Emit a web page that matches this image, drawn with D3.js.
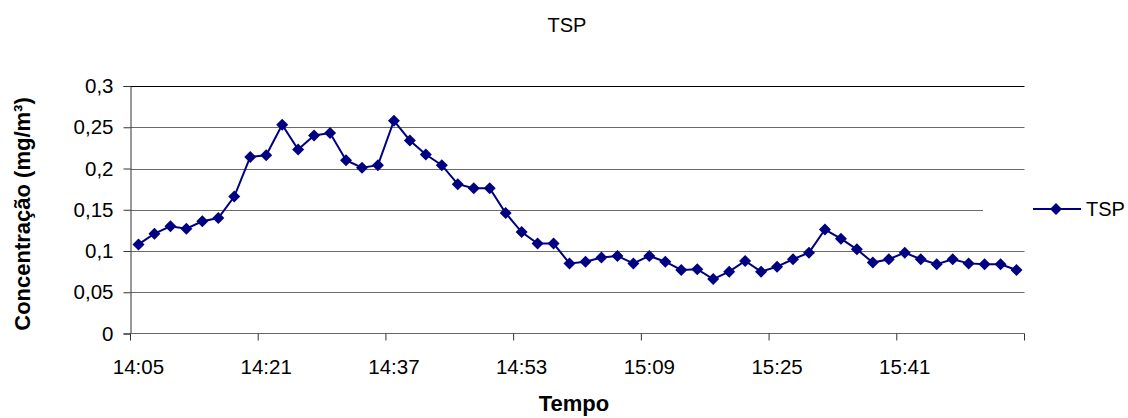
<!DOCTYPE html>
<html>
<head>
<meta charset="utf-8">
<script src="https://cdn.jsdelivr.net/npm/d3@7"></script>
<style>
  html, body { margin: 0; padding: 0; background: #fff; }
  svg { display: block; font-family: "Liberation Sans", Arial, sans-serif; }
</style>
</head>
<body>
<svg id="chart" width="1128" height="418"></svg>
<script>
// Sampling times (every 2 minutes, 14:05 to 15:55)
const times = [
  "14:05","14:07","14:09","14:11","14:13","14:15","14:17","14:19","14:21","14:23",
  "14:25","14:27","14:29","14:31","14:33","14:35","14:37","14:39","14:41","14:43",
  "14:45","14:47","14:49","14:51","14:53","14:55","14:57","14:59","15:01","15:03",
  "15:05","15:07","15:09","15:11","15:13","15:15","15:17","15:19","15:21","15:23",
  "15:25","15:27","15:29","15:31","15:33","15:35","15:37","15:39","15:41","15:43",
  "15:45","15:47","15:49","15:51","15:53","15:55"
];

// TSP concentration (mg/m³)
const tsp = [
  0.108, 0.121, 0.130, 0.127, 0.136, 0.140, 0.166, 0.214, 0.216, 0.253,
  0.223, 0.240, 0.243, 0.210, 0.201, 0.204, 0.258, 0.234, 0.217, 0.204,
  0.181, 0.176, 0.176, 0.146, 0.123, 0.109, 0.109, 0.085, 0.087, 0.092,
  0.094, 0.085, 0.094, 0.087, 0.077, 0.078, 0.066, 0.075, 0.088, 0.075,
  0.081, 0.090, 0.098, 0.126, 0.115, 0.102, 0.086, 0.090, 0.098, 0.090,
  0.084, 0.090, 0.085, 0.084, 0.084, 0.077
];

const yTicks = [0, 0.05, 0.1, 0.15, 0.2, 0.25, 0.3];
const xLabelEvery = 8;

const svg = d3.select("#chart");
const plot = { left: 130.5, right: 1024.5, top: 86, bottom: 333.5 };

const x = d3.scaleBand().domain(times).range([plot.left, plot.right]).padding(0);
const y = d3.scaleLinear().domain([0, 0.3]).range([plot.bottom, plot.top]);
const fmt = v => String(+v.toFixed(2)).replace(".", ",");

// Horizontal gridlines
svg.append("g").selectAll("line")
  .data(yTicks.filter(v => v > 0))
  .join("line")
  .attr("x1", plot.left).attr("x2", plot.right)
  .attr("y1", d => Math.round(y(d)) + 0.5).attr("y2", d => Math.round(y(d)) + 0.5)
  .attr("stroke", d => d === 0.3 ? "#000" : "#6a6a6a")
  .attr("stroke-width", 1.2);

// Y axis
const yAxis = svg.append("g")
  .attr("transform", `translate(${plot.left},0)`)
  .call(d3.axisLeft(y).tickValues(yTicks).tickFormat(fmt).tickSize(7).tickPadding(10));
yAxis.select(".domain").attr("stroke", "#333");
yAxis.selectAll(".tick line").attr("stroke", "#333");
yAxis.selectAll("text").attr("font-size", 20.5).attr("fill", "#000")
  .attr("font-family", "Liberation Sans, Arial, sans-serif");

// X axis: ticks between categories every 8 samples, labels centred on categories
const xAxisG = svg.append("g").attr("transform", `translate(0,${plot.bottom})`);
xAxisG.append("line")
  .attr("x1", plot.left).attr("x2", plot.right).attr("y1", 0).attr("y2", 0)
  .attr("stroke", "#666");
const bw = x.bandwidth();
const tickIdx = d3.range(0, times.length + 1, xLabelEvery);
xAxisG.selectAll("line.tk").data(tickIdx).join("line").attr("class", "tk")
  .attr("x1", i => plot.left + i * bw).attr("x2", i => plot.left + i * bw)
  .attr("y1", 0).attr("y2", 7).attr("stroke", "#333");
xAxisG.selectAll("text").data(times.filter((t, i) => i % xLabelEvery === 0)).join("text")
  .attr("x", t => x(t) + bw / 2).attr("y", 40)
  .attr("text-anchor", "middle").attr("font-size", 20.5).attr("fill", "#000")
  .text(t => t);

// Diamond marker (square turned 45°)
const diamondType = {
  draw(ctx, size) {
    const r = Math.sqrt(size) / 2 * Math.SQRT2;
    ctx.moveTo(0, -r); ctx.lineTo(r, 0); ctx.lineTo(0, r); ctx.lineTo(-r, 0); ctx.closePath();
  }
};
const diamond = d3.symbol().type(diamondType).size(72);

// Series line and markers
const cx = t => x(t) + bw / 2;
svg.append("path")
  .datum(tsp)
  .attr("fill", "none").attr("stroke", "#000080").attr("stroke-width", 2)
  .attr("d", d3.line().x((d, i) => cx(times[i])).y(d => y(d)));

svg.append("g").selectAll("path")
  .data(tsp)
  .join("path")
  .attr("d", diamond)
  .attr("transform", (d, i) => `translate(${cx(times[i])},${y(d)})`)
  .attr("fill", "#000080");

// Legend
const lg = svg.append("g");
lg.append("rect").attr("x", 983).attr("y", 196).attr("width", 145).attr("height", 26).attr("fill", "#fff");
lg.append("line").attr("x1", 1033).attr("x2", 1081).attr("y1", 209).attr("y2", 209)
  .attr("stroke", "#000080").attr("stroke-width", 2);
lg.append("path").attr("d", diamond)
  .attr("transform", "translate(1056,209)").attr("fill", "#000080");
lg.append("text").attr("x", 1086).attr("y", 216).attr("font-size", 20).text("TSP");

// Titles
svg.append("text").attr("x", 567).attr("y", 32).attr("text-anchor", "middle")
  .attr("font-size", 20).text("TSP");
svg.append("text").attr("x", 574).attr("y", 411).attr("text-anchor", "middle")
  .attr("font-size", 22).attr("font-weight", "bold").text("Tempo");
svg.append("text")
  .attr("transform", "translate(30,214) rotate(-90)")
  .attr("text-anchor", "middle").attr("font-size", 22).attr("font-weight", "bold")
  .text("Concentração (mg/m³)");
</script>
</body>
</html>
